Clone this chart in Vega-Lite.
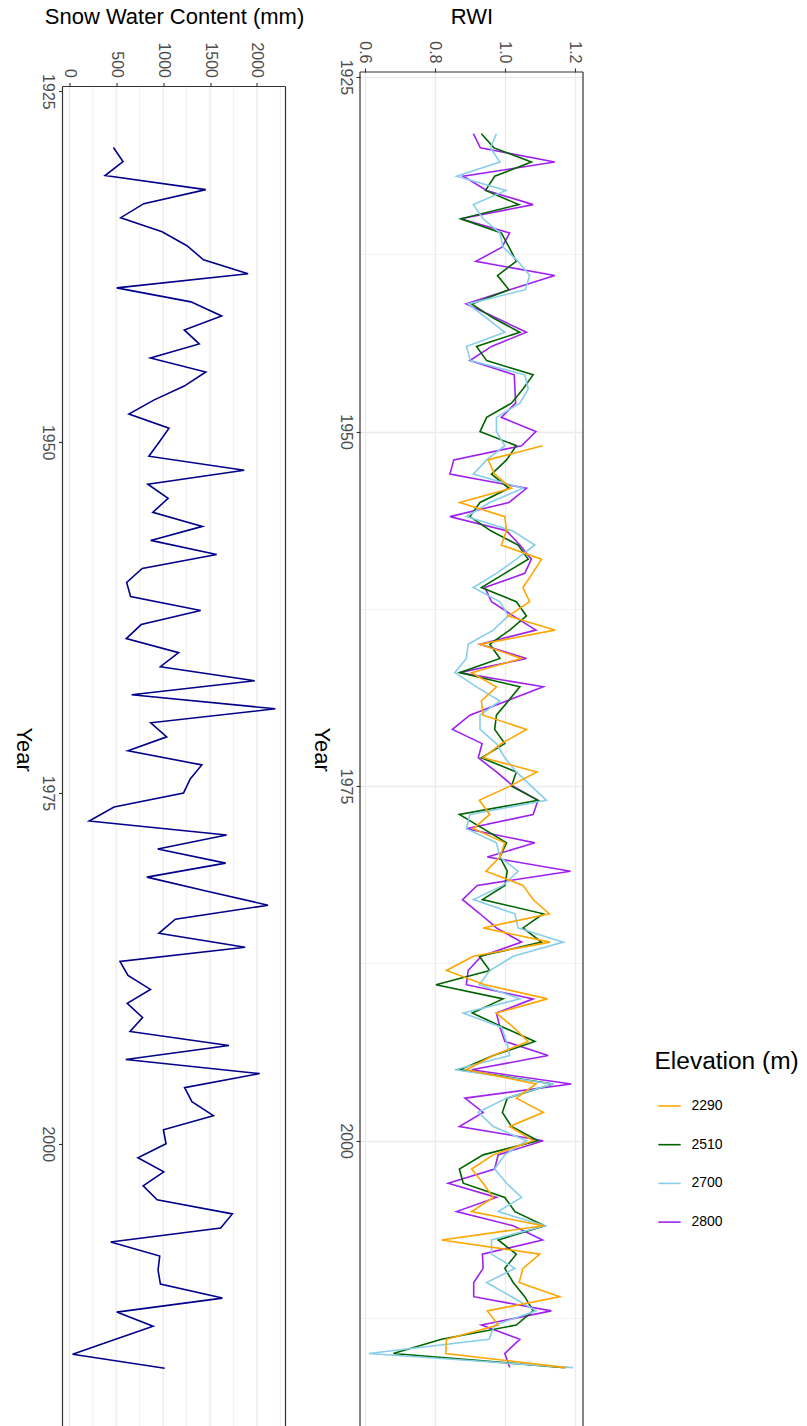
{
  "$schema": "https://vega.github.io/schema/vega-lite/v6.json",
  "padding": {"left": 12.5, "top": 5, "right": 0, "bottom": 0},
  "background": "white",
  "config": {
    "font": "Liberation Sans",
    "view": {"stroke": null},
    "axis": {"domain": false, "gridColor": "#EBEBEB", "tickColor": "#333333", "tickWidth": 1.1, "tickSize": 4, "labelColor": "#4D4D4D", "labelFontSize": 16, "titleFontSize": 22, "titleFontWeight": "normal", "titleColor": "black", "labelFont": "Liberation Sans", "titleFont": "Liberation Sans", "labelOverlap": false, "labelFlush": false},
    "concat": {"spacing": 5.5},
    "legend": {"titleFontSize": 24.5, "titleFontWeight": "normal", "titleColor": "black", "labelFontSize": 14, "labelColor": "black", "titleFont": "Liberation Sans", "labelFont": "Liberation Sans"}
  },
  "datasets": {
    "one": [{}],
    "grid": [{"g":0},{"g":250},{"g":500},{"g":750},{"g":1000},{"g":1250},{"g":1500},{"g":1750},{"g":2000},{"g":2250}],
    "swc": [
      {"year":1929,"swc":470},{"year":1930,"swc":572},{"year":1931,"swc":381},{"year":1932,"swc":1455},{"year":1933,"swc":794},{"year":1934,"swc":548},{"year":1935,"swc":989},{"year":1936,"swc":1254},{"year":1937,"swc":1431},{"year":1938,"swc":1906},
      {"year":1939,"swc":505},{"year":1940,"swc":1296},{"year":1941,"swc":1624},{"year":1942,"swc":1225},{"year":1943,"swc":1385},{"year":1944,"swc":865},{"year":1945,"swc":1455},{"year":1946,"swc":1225},{"year":1947,"swc":900},{"year":1948,"swc":635},
      {"year":1949,"swc":1063},{"year":1950,"swc":957},{"year":1951,"swc":848},{"year":1952,"swc":1865},{"year":1953,"swc":837},{"year":1954,"swc":1053},{"year":1955,"swc":890},{"year":1956,"swc":1419},{"year":1957,"swc":868},{"year":1958,"swc":1571},
      {"year":1959,"swc":777},{"year":1960,"swc":611},{"year":1961,"swc":653},{"year":1962,"swc":1401},{"year":1963,"swc":766},{"year":1964,"swc":607},{"year":1965,"swc":1165},{"year":1966,"swc":971},{"year":1967,"swc":1977},{"year":1968,"swc":664},
      {"year":1969,"swc":2197},{"year":1970,"swc":868},{"year":1971,"swc":1038},{"year":1972,"swc":625},{"year":1973,"swc":1413},{"year":1974,"swc":1289},{"year":1975,"swc":1218},{"year":1976,"swc":477},{"year":1977,"swc":211},{"year":1978,"swc":1677},
      {"year":1979,"swc":943},{"year":1980,"swc":1667},{"year":1981,"swc":827},{"year":1982,"swc":1469},{"year":1983,"swc":2119},{"year":1984,"swc":1130},{"year":1985,"swc":954},{"year":1986,"swc":1875},{"year":1987,"swc":540},{"year":1988,"swc":625},
      {"year":1989,"swc":865},{"year":1990,"swc":617},{"year":1991,"swc":781},{"year":1992,"swc":647},{"year":1993,"swc":1702},{"year":1994,"swc":601},{"year":1995,"swc":2030},{"year":1996,"swc":1229},{"year":1997,"swc":1307},{"year":1998,"swc":1536},
      {"year":1999,"swc":1003},{"year":2000,"swc":1031},{"year":2001,"swc":731},{"year":2002,"swc":1007},{"year":2003,"swc":787},{"year":2004,"swc":936},{"year":2005,"swc":1738},{"year":2006,"swc":1614},{"year":2007,"swc":441},{"year":2008,"swc":964},
      {"year":2009,"swc":946},{"year":2010,"swc":971},{"year":2011,"swc":1632},{"year":2012,"swc":505},{"year":2013,"swc":893},{"year":2014,"swc":462},{"year":2015,"swc":35},{"year":2016,"swc":1017}
    ],
    "rwi": [
      {"elev":"2800","year":1929,"rwi":0.910},{"elev":"2800","year":1930,"rwi":0.930},{"elev":"2800","year":1931,"rwi":1.143},{"elev":"2800","year":1932,"rwi":0.881},{"elev":"2800","year":1933,"rwi":0.948},{"elev":"2800","year":1934,"rwi":1.081},{"elev":"2800","year":1935,"rwi":0.874},{"elev":"2800","year":1936,"rwi":1.014},{"elev":"2800","year":1937,"rwi":0.992},{"elev":"2800","year":1938,"rwi":0.917},
      {"elev":"2800","year":1939,"rwi":1.143},{"elev":"2800","year":1940,"rwi":1.014},{"elev":"2800","year":1941,"rwi":0.889},{"elev":"2800","year":1942,"rwi":0.976},{"elev":"2800","year":1943,"rwi":1.062},{"elev":"2800","year":1944,"rwi":0.962},{"elev":"2800","year":1945,"rwi":0.900},{"elev":"2800","year":1946,"rwi":1.027},{"elev":"2800","year":1947,"rwi":1.029},{"elev":"2800","year":1948,"rwi":1.031},
      {"elev":"2800","year":1949,"rwi":0.990},{"elev":"2800","year":1950,"rwi":1.089},{"elev":"2800","year":1951,"rwi":1.048},{"elev":"2800","year":1952,"rwi":0.854},{"elev":"2800","year":1953,"rwi":0.843},{"elev":"2800","year":1954,"rwi":1.062},{"elev":"2800","year":1955,"rwi":1.012},{"elev":"2800","year":1956,"rwi":0.843},{"elev":"2800","year":1957,"rwi":1.005},{"elev":"2800","year":1958,"rwi":1.043},
      {"elev":"2800","year":1959,"rwi":1.076},{"elev":"2800","year":1960,"rwi":1.057},{"elev":"2800","year":1961,"rwi":0.943},{"elev":"2800","year":1962,"rwi":0.962},{"elev":"2800","year":1963,"rwi":1.024},{"elev":"2800","year":1964,"rwi":1.089},{"elev":"2800","year":1965,"rwi":0.929},{"elev":"2800","year":1966,"rwi":1.062},{"elev":"2800","year":1967,"rwi":0.870},{"elev":"2800","year":1968,"rwi":1.110},
      {"elev":"2800","year":1969,"rwi":1.005},{"elev":"2800","year":1970,"rwi":0.900},{"elev":"2800","year":1971,"rwi":0.850},{"elev":"2800","year":1972,"rwi":0.935},{"elev":"2800","year":1973,"rwi":0.924},{"elev":"2800","year":1974,"rwi":0.976},{"elev":"2800","year":1975,"rwi":1.024},{"elev":"2800","year":1976,"rwi":1.095},{"elev":"2800","year":1977,"rwi":1.081},{"elev":"2800","year":1978,"rwi":0.890},
      {"elev":"2800","year":1979,"rwi":1.086},{"elev":"2800","year":1980,"rwi":0.950},{"elev":"2800","year":1981,"rwi":1.188},{"elev":"2800","year":1982,"rwi":0.921},{"elev":"2800","year":1983,"rwi":0.879},{"elev":"2800","year":1984,"rwi":0.929},{"elev":"2800","year":1985,"rwi":0.976},{"elev":"2800","year":1986,"rwi":1.048},{"elev":"2800","year":1987,"rwi":0.933},{"elev":"2800","year":1988,"rwi":0.895},
      {"elev":"2800","year":1989,"rwi":0.890},{"elev":"2800","year":1990,"rwi":1.081},{"elev":"2800","year":1991,"rwi":0.976},{"elev":"2800","year":1992,"rwi":0.986},{"elev":"2800","year":1993,"rwi":1.000},{"elev":"2800","year":1994,"rwi":1.124},{"elev":"2800","year":1995,"rwi":0.905},{"elev":"2800","year":1996,"rwi":1.190},{"elev":"2800","year":1997,"rwi":0.886},{"elev":"2800","year":1998,"rwi":0.938},
      {"elev":"2800","year":1999,"rwi":0.870},{"elev":"2800","year":2000,"rwi":1.110},{"elev":"2800","year":2001,"rwi":0.981},{"elev":"2800","year":2002,"rwi":0.971},{"elev":"2800","year":2003,"rwi":0.838},{"elev":"2800","year":2004,"rwi":0.976},{"elev":"2800","year":2005,"rwi":0.862},{"elev":"2800","year":2006,"rwi":1.024},{"elev":"2800","year":2007,"rwi":1.108},{"elev":"2800","year":2008,"rwi":0.936},
      {"elev":"2800","year":2009,"rwi":0.938},{"elev":"2800","year":2010,"rwi":0.911},{"elev":"2800","year":2011,"rwi":0.911},{"elev":"2800","year":2012,"rwi":1.133},{"elev":"2800","year":2013,"rwi":0.933},{"elev":"2800","year":2014,"rwi":1.043},{"elev":"2800","year":2015,"rwi":1.000},{"elev":"2800","year":2016,"rwi":1.014},

      {"elev":"2510","year":1929,"rwi":0.933},{"elev":"2510","year":1930,"rwi":0.969},{"elev":"2510","year":1931,"rwi":1.076},{"elev":"2510","year":1932,"rwi":0.971},{"elev":"2510","year":1933,"rwi":0.945},{"elev":"2510","year":1934,"rwi":1.040},{"elev":"2510","year":1935,"rwi":0.874},{"elev":"2510","year":1936,"rwi":0.990},{"elev":"2510","year":1937,"rwi":1.012},{"elev":"2510","year":1938,"rwi":1.033},
      {"elev":"2510","year":1939,"rwi":0.979},{"elev":"2510","year":1940,"rwi":1.012},{"elev":"2510","year":1941,"rwi":0.905},{"elev":"2510","year":1942,"rwi":0.967},{"elev":"2510","year":1943,"rwi":1.043},{"elev":"2510","year":1944,"rwi":0.919},{"elev":"2510","year":1945,"rwi":0.948},{"elev":"2510","year":1946,"rwi":1.081},{"elev":"2510","year":1947,"rwi":1.052},{"elev":"2510","year":1948,"rwi":1.019},
      {"elev":"2510","year":1949,"rwi":0.948},{"elev":"2510","year":1950,"rwi":0.929},{"elev":"2510","year":1951,"rwi":1.033},{"elev":"2510","year":1952,"rwi":1.005},{"elev":"2510","year":1953,"rwi":0.962},{"elev":"2510","year":1954,"rwi":1.012},{"elev":"2510","year":1955,"rwi":0.929},{"elev":"2510","year":1956,"rwi":0.900},{"elev":"2510","year":1957,"rwi":0.960},{"elev":"2510","year":1958,"rwi":1.038},
      {"elev":"2510","year":1959,"rwi":1.067},{"elev":"2510","year":1960,"rwi":1.000},{"elev":"2510","year":1961,"rwi":0.933},{"elev":"2510","year":1962,"rwi":1.033},{"elev":"2510","year":1963,"rwi":1.062},{"elev":"2510","year":1964,"rwi":1.014},{"elev":"2510","year":1965,"rwi":0.957},{"elev":"2510","year":1966,"rwi":0.986},{"elev":"2510","year":1967,"rwi":0.871},{"elev":"2510","year":1968,"rwi":1.043},
      {"elev":"2510","year":1969,"rwi":1.010},{"elev":"2510","year":1970,"rwi":0.976},{"elev":"2510","year":1971,"rwi":0.971},{"elev":"2510","year":1972,"rwi":1.000},{"elev":"2510","year":1973,"rwi":0.933},{"elev":"2510","year":1974,"rwi":1.033},{"elev":"2510","year":1975,"rwi":1.019},{"elev":"2510","year":1976,"rwi":1.095},{"elev":"2510","year":1977,"rwi":0.870},{"elev":"2510","year":1978,"rwi":0.938},
      {"elev":"2510","year":1979,"rwi":1.005},{"elev":"2510","year":1980,"rwi":0.986},{"elev":"2510","year":1981,"rwi":1.007},{"elev":"2510","year":1982,"rwi":1.000},{"elev":"2510","year":1983,"rwi":0.936},{"elev":"2510","year":1984,"rwi":1.110},{"elev":"2510","year":1985,"rwi":1.052},{"elev":"2510","year":1986,"rwi":1.105},{"elev":"2510","year":1987,"rwi":0.927},{"elev":"2510","year":1988,"rwi":0.957},
      {"elev":"2510","year":1989,"rwi":0.803},{"elev":"2510","year":1990,"rwi":0.995},{"elev":"2510","year":1991,"rwi":0.907},{"elev":"2510","year":1992,"rwi":0.995},{"elev":"2510","year":1993,"rwi":1.086},{"elev":"2510","year":1994,"rwi":0.967},{"elev":"2510","year":1995,"rwi":0.871},{"elev":"2510","year":1996,"rwi":1.138},{"elev":"2510","year":1997,"rwi":1.007},{"elev":"2510","year":1998,"rwi":0.993},
      {"elev":"2510","year":1999,"rwi":1.019},{"elev":"2510","year":2000,"rwi":1.095},{"elev":"2510","year":2001,"rwi":0.938},{"elev":"2510","year":2002,"rwi":0.870},{"elev":"2510","year":2003,"rwi":0.881},{"elev":"2510","year":2004,"rwi":1.000},{"elev":"2510","year":2005,"rwi":1.029},{"elev":"2510","year":2006,"rwi":1.114},{"elev":"2510","year":2007,"rwi":0.981},{"elev":"2510","year":2008,"rwi":1.033},
      {"elev":"2510","year":2009,"rwi":1.000},{"elev":"2510","year":2010,"rwi":1.024},{"elev":"2510","year":2011,"rwi":1.057},{"elev":"2510","year":2012,"rwi":1.081},{"elev":"2510","year":2013,"rwi":1.033},{"elev":"2510","year":2014,"rwi":0.819},{"elev":"2510","year":2015,"rwi":0.681},{"elev":"2510","year":2016,"rwi":1.171},

      {"elev":"2700","year":1929,"rwi":0.976},{"elev":"2700","year":1930,"rwi":0.959},{"elev":"2700","year":1931,"rwi":0.986},{"elev":"2700","year":1932,"rwi":0.862},{"elev":"2700","year":1933,"rwi":1.003},{"elev":"2700","year":1934,"rwi":0.910},{"elev":"2700","year":1935,"rwi":0.938},{"elev":"2700","year":1936,"rwi":0.986},{"elev":"2700","year":1937,"rwi":0.995},{"elev":"2700","year":1938,"rwi":1.038},
      {"elev":"2700","year":1939,"rwi":1.071},{"elev":"2700","year":1940,"rwi":1.059},{"elev":"2700","year":1941,"rwi":0.895},{"elev":"2700","year":1942,"rwi":0.948},{"elev":"2700","year":1943,"rwi":1.000},{"elev":"2700","year":1944,"rwi":0.890},{"elev":"2700","year":1945,"rwi":0.902},{"elev":"2700","year":1946,"rwi":1.057},{"elev":"2700","year":1947,"rwi":1.067},{"elev":"2700","year":1948,"rwi":1.043},
      {"elev":"2700","year":1949,"rwi":0.976},{"elev":"2700","year":1950,"rwi":0.976},{"elev":"2700","year":1951,"rwi":1.000},{"elev":"2700","year":1952,"rwi":0.948},{"elev":"2700","year":1953,"rwi":0.910},{"elev":"2700","year":1954,"rwi":1.052},{"elev":"2700","year":1955,"rwi":0.957},{"elev":"2700","year":1956,"rwi":0.890},{"elev":"2700","year":1957,"rwi":1.022},{"elev":"2700","year":1958,"rwi":1.086},
      {"elev":"2700","year":1959,"rwi":1.033},{"elev":"2700","year":1960,"rwi":0.976},{"elev":"2700","year":1961,"rwi":0.910},{"elev":"2700","year":1962,"rwi":0.986},{"elev":"2700","year":1963,"rwi":1.010},{"elev":"2700","year":1964,"rwi":0.967},{"elev":"2700","year":1965,"rwi":0.895},{"elev":"2700","year":1966,"rwi":0.890},{"elev":"2700","year":1967,"rwi":0.857},{"elev":"2700","year":1968,"rwi":0.919},
      {"elev":"2700","year":1969,"rwi":0.986},{"elev":"2700","year":1970,"rwi":0.929},{"elev":"2700","year":1971,"rwi":0.929},{"elev":"2700","year":1972,"rwi":0.976},{"elev":"2700","year":1973,"rwi":1.000},{"elev":"2700","year":1974,"rwi":1.033},{"elev":"2700","year":1975,"rwi":1.076},{"elev":"2700","year":1976,"rwi":1.119},{"elev":"2700","year":1977,"rwi":0.900},{"elev":"2700","year":1978,"rwi":0.890},
      {"elev":"2700","year":1979,"rwi":0.976},{"elev":"2700","year":1980,"rwi":0.986},{"elev":"2700","year":1981,"rwi":1.038},{"elev":"2700","year":1982,"rwi":0.995},{"elev":"2700","year":1983,"rwi":0.910},{"elev":"2700","year":1984,"rwi":1.029},{"elev":"2700","year":1985,"rwi":1.038},{"elev":"2700","year":1986,"rwi":1.167},{"elev":"2700","year":1987,"rwi":1.024},{"elev":"2700","year":1988,"rwi":0.957},
      {"elev":"2700","year":1989,"rwi":0.927},{"elev":"2700","year":1990,"rwi":1.043},{"elev":"2700","year":1991,"rwi":0.881},{"elev":"2700","year":1992,"rwi":0.990},{"elev":"2700","year":1993,"rwi":1.005},{"elev":"2700","year":1994,"rwi":1.014},{"elev":"2700","year":1995,"rwi":0.857},{"elev":"2700","year":1996,"rwi":1.138},{"elev":"2700","year":1997,"rwi":1.005},{"elev":"2700","year":1998,"rwi":0.924},
      {"elev":"2700","year":1999,"rwi":0.967},{"elev":"2700","year":2000,"rwi":1.062},{"elev":"2700","year":2001,"rwi":1.000},{"elev":"2700","year":2002,"rwi":0.971},{"elev":"2700","year":2003,"rwi":1.005},{"elev":"2700","year":2004,"rwi":1.048},{"elev":"2700","year":2005,"rwi":0.981},{"elev":"2700","year":2006,"rwi":1.114},{"elev":"2700","year":2007,"rwi":0.962},{"elev":"2700","year":2008,"rwi":0.962},
      {"elev":"2700","year":2009,"rwi":1.029},{"elev":"2700","year":2010,"rwi":0.948},{"elev":"2700","year":2011,"rwi":1.019},{"elev":"2700","year":2012,"rwi":1.090},{"elev":"2700","year":2013,"rwi":0.971},{"elev":"2700","year":2014,"rwi":0.955},{"elev":"2700","year":2015,"rwi":0.611},{"elev":"2700","year":2016,"rwi":1.195},

      {"elev":"2290","year":1951,"rwi":1.108},{"elev":"2290","year":1952,"rwi":0.952},{"elev":"2290","year":1953,"rwi":0.971},{"elev":"2290","year":1954,"rwi":1.019},{"elev":"2290","year":1955,"rwi":0.871},{"elev":"2290","year":1956,"rwi":1.000},{"elev":"2290","year":1957,"rwi":1.005},{"elev":"2290","year":1958,"rwi":0.990},
      {"elev":"2290","year":1959,"rwi":1.105},{"elev":"2290","year":1960,"rwi":1.079},{"elev":"2290","year":1961,"rwi":1.052},{"elev":"2290","year":1962,"rwi":1.071},{"elev":"2290","year":1963,"rwi":1.010},{"elev":"2290","year":1964,"rwi":1.143},{"elev":"2290","year":1965,"rwi":0.929},{"elev":"2290","year":1966,"rwi":1.048},{"elev":"2290","year":1967,"rwi":0.905},{"elev":"2290","year":1968,"rwi":0.976},
      {"elev":"2290","year":1969,"rwi":0.933},{"elev":"2290","year":1970,"rwi":0.938},{"elev":"2290","year":1971,"rwi":1.062},{"elev":"2290","year":1972,"rwi":0.990},{"elev":"2290","year":1973,"rwi":0.938},{"elev":"2290","year":1974,"rwi":1.092},{"elev":"2290","year":1975,"rwi":1.014},{"elev":"2290","year":1976,"rwi":0.927},{"elev":"2290","year":1977,"rwi":0.957},{"elev":"2290","year":1978,"rwi":0.910},
      {"elev":"2290","year":1979,"rwi":1.000},{"elev":"2290","year":1980,"rwi":0.986},{"elev":"2290","year":1981,"rwi":0.946},{"elev":"2290","year":1982,"rwi":1.052},{"elev":"2290","year":1983,"rwi":1.081},{"elev":"2290","year":1984,"rwi":1.127},{"elev":"2290","year":1985,"rwi":0.938},{"elev":"2290","year":1986,"rwi":1.129},{"elev":"2290","year":1987,"rwi":0.910},{"elev":"2290","year":1988,"rwi":0.833},
      {"elev":"2290","year":1989,"rwi":0.943},{"elev":"2290","year":1990,"rwi":1.122},{"elev":"2290","year":1991,"rwi":0.976},{"elev":"2290","year":1992,"rwi":1.024},{"elev":"2290","year":1993,"rwi":1.067},{"elev":"2290","year":1994,"rwi":0.967},{"elev":"2290","year":1995,"rwi":0.890},{"elev":"2290","year":1996,"rwi":1.089},{"elev":"2290","year":1997,"rwi":1.033},{"elev":"2290","year":1998,"rwi":1.110},
      {"elev":"2290","year":1999,"rwi":1.014},{"elev":"2290","year":2000,"rwi":1.081},{"elev":"2290","year":2001,"rwi":0.967},{"elev":"2290","year":2002,"rwi":0.905},{"elev":"2290","year":2003,"rwi":0.938},{"elev":"2290","year":2004,"rwi":0.967},{"elev":"2290","year":2005,"rwi":0.905},{"elev":"2290","year":2006,"rwi":1.110},{"elev":"2290","year":2007,"rwi":0.819},{"elev":"2290","year":2008,"rwi":1.100},
      {"elev":"2290","year":2009,"rwi":1.052},{"elev":"2290","year":2010,"rwi":1.041},{"elev":"2290","year":2011,"rwi":1.157},{"elev":"2290","year":2012,"rwi":0.950},{"elev":"2290","year":2013,"rwi":0.981},{"elev":"2290","year":2014,"rwi":0.833},{"elev":"2290","year":2015,"rwi":0.831},{"elev":"2290","year":2016,"rwi":1.176}
    ]
  },
  "hconcat": [
    {
      "width": 223,
      "height": 1354.2,
      "layer": [
        {
          "data": {"name": "grid"},
          "mark": {"type": "rule", "color": "#EBEBEB"},
          "encoding": {
            "x": {"field": "g", "type": "quantitative"},
            "y": {"datum": 1924.65, "type": "quantitative"},
            "y2": {"datum": 2020.13},
            "strokeWidth": {"condition": {"test": "datum.g % 500 === 0", "value": 1.3}, "value": 0.7}
          }
        },
        {
          "data": {"name": "swc"},
          "mark": {"type": "line", "color": "#00008B", "strokeWidth": 1.6},
          "encoding": {
            "x": {
              "field": "swc", "type": "quantitative",
              "scale": {"domain": [-73, 2305], "nice": false, "zero": false},
              "axis": {
                "orient": "top", "title": "Snow Water Content (mm)", "grid": false, "offset": -14.5,
                "values": [0, 500, 1000, 1500, 2000],
                "format": "d",
                "labelAngle": 90, "labelAlign": "right", "labelBaseline": "middle",
                "labelPadding": 5, "titlePadding": 13.7
              }
            },
            "y": {
              "field": "year", "type": "quantitative",
              "scale": {"domain": [1923.617, 2020.13], "nice": false, "zero": false, "reverse": true},
              "axis": {
                "title": "Year", "titleAngle": 90, "titleBaseline": "top",
                "values": [1925, 1937.5, 1950, 1962.5, 1975, 1987.5, 2000, 2012.5],
                "format": "d",
                "labelExpr": "datum.value % 25 === 0 ? datum.label : ''",
                "labelAngle": 90, "labelAlign": "center", "labelBaseline": "top",
                "labelPadding": 3, "titlePadding": 6,
                "tickOpacity": {"condition": {"test": "datum.value % 25 === 0", "value": 1}, "value": 0},
                "gridWidth": {"condition": {"test": "datum.value % 25 === 0", "value": 1.3}, "value": 0.7}
              }
            },
            "order": {"field": "year", "type": "quantitative"}
          }
        },
        {
          "data": {"name": "one"},
          "mark": {"type": "rule", "color": "#333333", "strokeWidth": 1.2},
          "encoding": {"x": {"datum": -73, "type": "quantitative"}, "y": {"datum": 1924.65, "type": "quantitative"}, "y2": {"datum": 2020.13}}
        },
        {
          "data": {"name": "one"},
          "mark": {"type": "rule", "color": "#333333", "strokeWidth": 1.2},
          "encoding": {"x": {"datum": 2305, "type": "quantitative"}, "y": {"datum": 1924.65, "type": "quantitative"}, "y2": {"datum": 2020.13}}
        },
        {
          "data": {"name": "one"},
          "mark": {"type": "rule", "color": "#333333", "strokeWidth": 1.2},
          "encoding": {"x": {"datum": -73, "type": "quantitative"}, "x2": {"datum": 2305}, "y": {"datum": 1924.65, "type": "quantitative"}}
        }
      ]
    },
    {
      "width": 223,
      "height": 1354.2,
      "layer": [
        {
          "data": {"name": "rwi"},
          "mark": {"type": "line", "strokeWidth": 1.6},
          "encoding": {
            "x": {
              "field": "rwi", "type": "quantitative",
              "scale": {"domain": [0.5857, 1.2237], "nice": false, "zero": false},
              "axis": {
                "orient": "top", "title": "RWI",
                "values": [0.6, 0.7, 0.8, 0.9, 1.0, 1.1, 1.2],
                "format": ".1f",
                "labelExpr": "round(datum.value * 10) % 2 === 0 ? datum.label : ''",
                "labelAngle": 90, "labelAlign": "right", "labelBaseline": "middle",
                "labelPadding": 5, "titlePadding": 12.6,
                "tickOpacity": {"condition": {"test": "round(datum.value * 10) % 2 === 0", "value": 1}, "value": 0},
                "gridWidth": {"condition": {"test": "round(datum.value * 10) % 2 === 0", "value": 1.3}, "value": 0.7}
              }
            },
            "y": {
              "field": "year", "type": "quantitative",
              "scale": {"domain": [1924.65, 2020.13], "nice": false, "zero": false, "reverse": true},
              "axis": {
                "title": "Year", "titleAngle": 90, "titleBaseline": "top",
                "values": [1925, 1937.5, 1950, 1962.5, 1975, 1987.5, 2000, 2012.5],
                "format": "d",
                "labelExpr": "datum.value % 25 === 0 ? datum.label : ''",
                "labelAngle": 90, "labelAlign": "center", "labelBaseline": "top",
                "labelPadding": 3, "titlePadding": 6,
                "tickOpacity": {"condition": {"test": "datum.value % 25 === 0", "value": 1}, "value": 0},
                "gridWidth": {"condition": {"test": "datum.value % 25 === 0", "value": 1.3}, "value": 0.7}
              }
            },
            "color": {
              "field": "elev", "type": "nominal",
              "scale": {"domain": ["2290", "2510", "2700", "2800"], "range": ["#FFA500", "#006400", "#87CEEB", "#A020F0"]},
              "legend": {
                "title": "Elevation (m)", "orient": "none", "legendX": 592, "legendY": 978,
                "symbolType": "stroke", "symbolSize": 500, "symbolStrokeWidth": 1.6, "symbolOffset": 3,
                "titlePadding": 19.5, "rowPadding": 19.7, "labelOffset": 10
              }
            },
            "order": {"field": "year", "type": "quantitative"}
          }
        },
        {
          "data": {"name": "one"},
          "mark": {"type": "rule", "color": "#333333", "strokeWidth": 1.2},
          "encoding": {"x": {"datum": 0.5857, "type": "quantitative"}, "y": {"datum": 1924.65, "type": "quantitative"}, "y2": {"datum": 2020.13}}
        },
        {
          "data": {"name": "one"},
          "mark": {"type": "rule", "color": "#333333", "strokeWidth": 1.2},
          "encoding": {"x": {"datum": 1.2237, "type": "quantitative"}, "y": {"datum": 1924.65, "type": "quantitative"}, "y2": {"datum": 2020.13}}
        },
        {
          "data": {"name": "one"},
          "mark": {"type": "rule", "color": "#333333", "strokeWidth": 1.2},
          "encoding": {"x": {"datum": 0.5857, "type": "quantitative"}, "x2": {"datum": 1.2237}, "y": {"datum": 1924.65, "type": "quantitative"}}
        }
      ]
    }
  ]
}
